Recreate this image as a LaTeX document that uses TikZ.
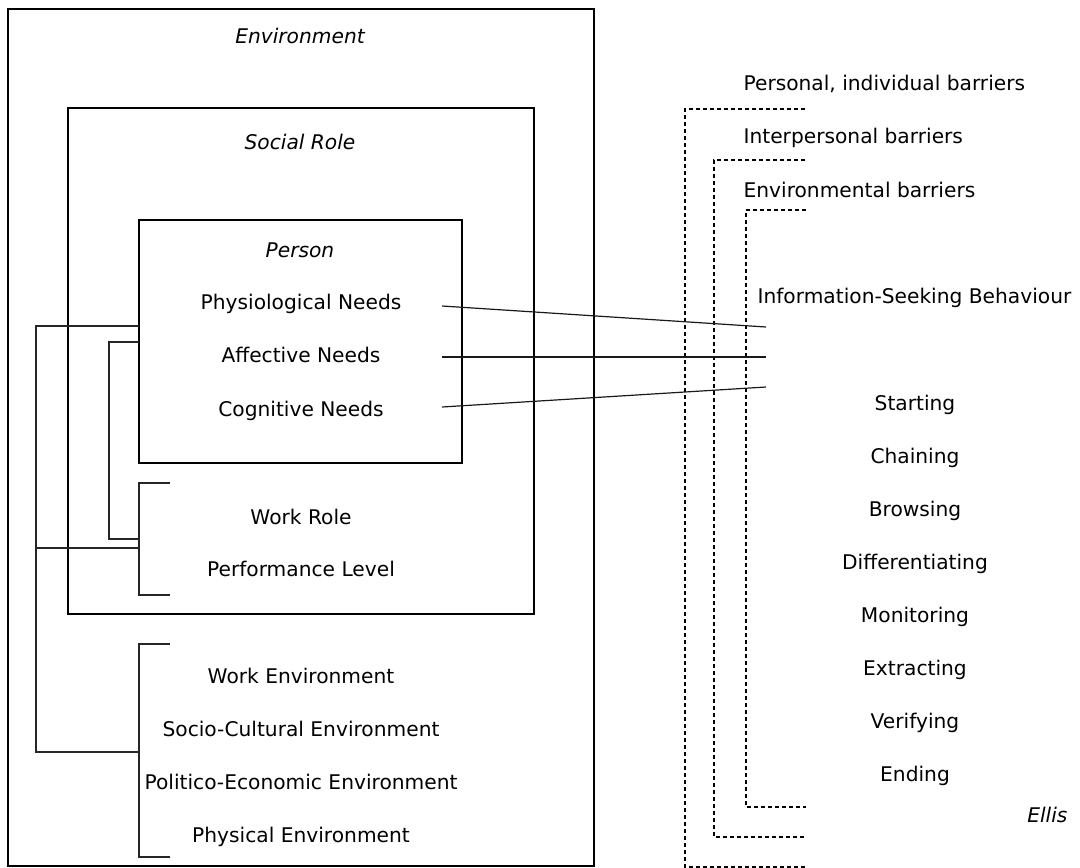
\documentclass[tikz,border=0pt]{standalone}
\usepackage{fontspec}
\setmainfont{DejaVu Sans}
\begin{document}
\begin{tikzpicture}[x=1pt,y=-1pt,line width=1.2pt,
  lbl/.style={anchor=base,inner sep=0pt,font=\fontsize{20.2}{24}\selectfont},
  ttl/.style={lbl,font=\fontsize{20.2}{24}\selectfont\itshape},
  lft/.style={lbl,anchor=base west},
  boxline/.style={draw=black,line width=1.2pt},
  brk/.style={draw=black!85,line width=1.2pt},
  barrier/.style={draw=black,line width=1.2pt,dash pattern=on 4pt off 3pt},
  link/.style={draw=black!90,line width=1.2pt}]
\useasboundingbox (0,0) rectangle (1080,868);

% boxes
\draw[boxline] (8,9) rectangle (594,866);
\draw[boxline] (68,108) rectangle (534,614);
\draw[boxline] (139,220) rectangle (462,463);

% titles
\node[ttl] (env) at (300,43) {Environment};
\node[ttl] (soc) at (300,149) {Social Role};
\node[ttl] (per) at (300,257) {Person};

% person needs
\node[lbl] (phys) at (301,309) {Physiological Needs};
\node[lbl] (aff) at (301,362) {Affective Needs};
\node[lbl] (cog) at (301,416) {Cognitive Needs};

% social role
\node[lbl] (work) at (301,524) {Work Role};
\node[lbl] (perf) at (301,576) {Performance Level};

% environment
\node[lbl] (wenv) at (301,683) {Work Environment};
\node[lbl] (senv) at (301,736) {Socio-Cultural Environment};
\node[lbl] (penv) at (301,789) {Politico-Economic Environment};
\node[lbl] (phenv) at (301,842) {Physical Environment};

% brackets on the left
\coordinate (a1) at (139,326);
\coordinate (a2) at (139,548);
\coordinate (a3) at (139,752);
\draw[brk] (a1) -- (36,326) -- (36,752) -- (a3);
\draw[brk] (36,548) -- (a2);
\coordinate (b1) at (139,342);
\coordinate (b2) at (139,539);
\draw[brk] (b1) -- (109,342) -- (109,539) -- (b2);
\coordinate (w1) at (170,483);
\coordinate (w2) at (170,595);
\draw[brk] (w1) -- (139,483) -- (139,595) -- (w2);
\coordinate (e1) at (170,644);
\coordinate (e2) at (170,857);
\draw[brk] (e1) -- (139,644) -- (139,857) -- (e2);

% right side texts
\node[lft] (pib) at (743,90) {Personal, individual barriers};
\node[lft] (ipb) at (743,143) {Interpersonal barriers};
\node[lft] (enb) at (743,197) {Environmental barriers};
\node[lft] (isb) at (757,303) {Information-Seeking Behaviour};

\node[lbl] (s1) at (915,410) {Starting};
\node[lbl] (s2) at (915,463) {Chaining};
\node[lbl] (s3) at (915,516) {Browsing};
\node[lbl] (s4) at (915,569) {Differentiating};
\node[lbl] (s5) at (915,622) {Monitoring};
\node[lbl] (s6) at (915,675) {Extracting};
\node[lbl] (s7) at (915,728) {Verifying};
\node[lbl] (s8) at (915,781) {Ending};
\node[ttl,anchor=base east] (ellis) at (1068,822) {Ellis};

% dashed barrier brackets
\coordinate (d1a) at (805,109);
\coordinate (d1b) at (805,867);
\draw[barrier] (d1a) -- (685,109) -- (685,867) -- (d1b);
\coordinate (d2a) at (805,160);
\coordinate (d2b) at (805,837);
\draw[barrier] (d2a) -- (714,160) -- (714,837) -- (d2b);
\coordinate (d3a) at (806,210);
\coordinate (d3b) at (806,807);
\draw[barrier] (d3a) -- (746,210) -- (746,807) -- (d3b);

% links from needs to behaviour
\coordinate (n1) at (442,306);
\coordinate (n2) at (442,357);
\coordinate (n3) at (442,407);
\coordinate (i1) at (766,327);
\coordinate (i2) at (766,357);
\coordinate (i3) at (766,387);
\draw[link] (n1) -- (i1);
\draw[link] (n2) -- (i2);
\draw[link] (n3) -- (i3);
\end{tikzpicture}
\end{document}
